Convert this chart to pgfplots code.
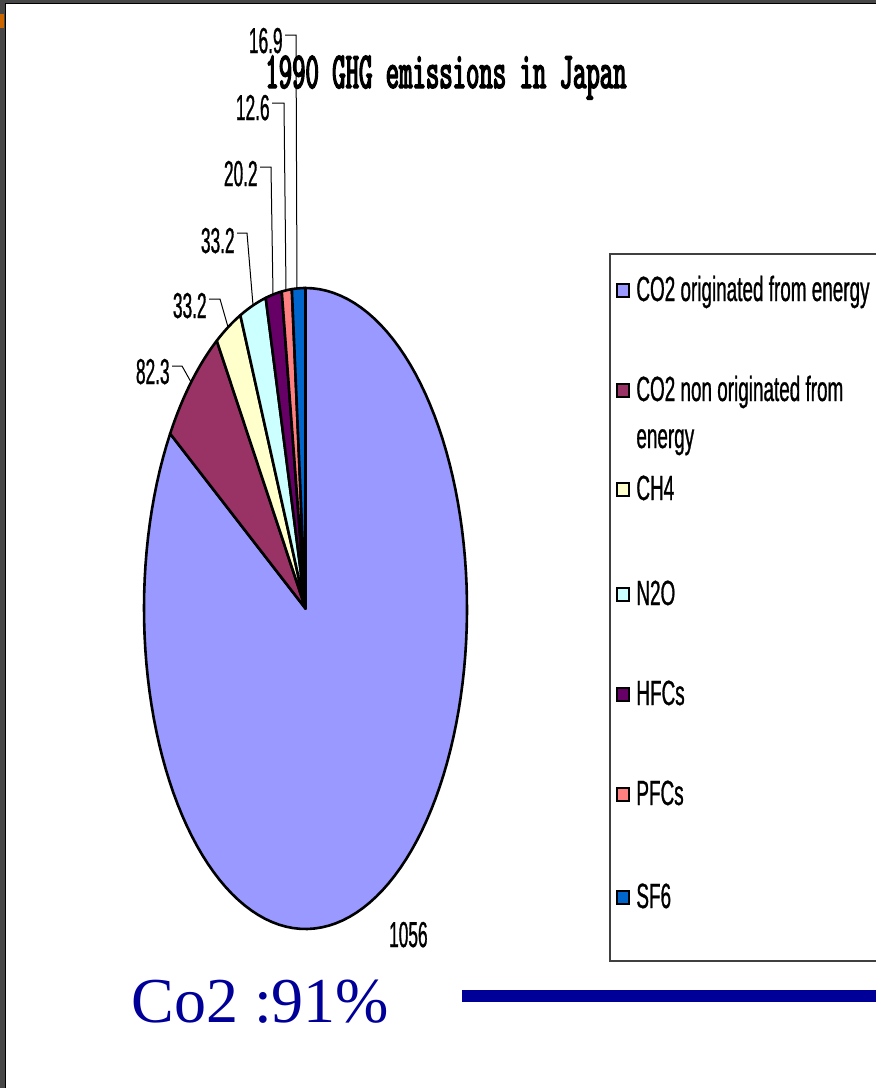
\documentclass[border=0pt]{standalone}
\usepackage{pgfplots}
\pgfplotsset{compat=1.18}
\usepackage{pgfplotstable}
\usepackage{fontspec}
\setmainfont{Liberation Sans}
\newfontfamily\labfont[FakeStretch=0.48, FakeBold=0.8]{Liberation Sans}
\newfontfamily\legfont[FakeStretch=0.54, FakeBold=0.8]{Liberation Sans}
\newfontfamily\ttlfont{lmmono10-regular}[Extension=.otf, FakeStretch=0.49, FakeBold=2.5]
\newfontfamily\serfont{Liberation Serif}

% Excel palette, in series order
\definecolor{c0}{HTML}{9999FF}
\definecolor{c1}{HTML}{993366}
\definecolor{c2}{HTML}{FFFFCC}
\definecolor{c3}{HTML}{CCFFFF}
\definecolor{c4}{HTML}{660066}
\definecolor{c5}{HTML}{FF8080}
\definecolor{c6}{HTML}{0066CC}
\definecolor{navy}{HTML}{000099}

% 1990 GHG emissions, Japan
\pgfplotstableread{
gas   value
CO2e  1056
CO2n  82.3
CH4   33.2
N2O   33.2
HFCs  20.2
PFCs  12.6
SF6   16.9
}\ghg
\pgfplotstablecreatecol[create col/expr accum={\pgfmathaccuma+\thisrow{value}}{0}]{cum}\ghg

% legend swatch + text, baseline at #2 (image px)
\newcommand\legentry[3]{%
  \filldraw[fill=#1, draw=black, line width=0.9pt] (axis cs:617,#2-17) rectangle (axis cs:629,#2-4);
  \node[leg] at (axis cs:636,#2) {#3};
}

\begin{document}
\begin{tikzpicture}
\pgfplotstablegetelem{6}{cum}\of\ghg \let\ghgtotal\pgfplotsretval
% start / end angle of every slice, clockwise from 12 o'clock
\foreach \i in {0,...,6}{%
  \pgfplotstablegetelem{\i}{cum}\of\ghg
  \pgfmathsetmacro\angB{\pgfplotsretval/\ghgtotal*360}%
  \pgfplotstablegetelem{\i}{value}\of\ghg
  \pgfmathsetmacro\angA{\angB-\pgfplotsretval/\ghgtotal*360}%
  \expandafter\xdef\csname sa\i\endcsname{\angA}%
  \expandafter\xdef\csname sb\i\endcsname{\angB}%
}
\begin{axis}[
  at={(0,0)}, anchor=south west,
  scale only axis, width=438pt, height=544pt,
  xmin=0, xmax=876, ymin=0, ymax=1088,
  y dir=reverse,
  hide axis, clip=false,
]
  % frame of the screenshot
  \fill[black!72] (axis cs:0,0) rectangle (axis cs:876,3.5);
  \fill[black!72] (axis cs:0,0) rectangle (axis cs:5,1088);
  \fill[black] (axis cs:5,3.5) rectangle (axis cs:6,1088);
  \fill[black] (axis cs:5,3) rectangle (axis cs:876,4);
  \fill[orange!80!black] (axis cs:0,14) rectangle (axis cs:4,28);

  \pgfplotsinvokeforeach{0,...,6}{
    \addplot[fill=c#1, draw=black, line width=1.3pt, line join=round,
      domain=\csname sa#1\endcsname:\csname sb#1\endcsname, samples=121]
      ({305.5+161.5*sin(x)}, {608.5-320.5*cos(x)}) -- (axis cs:305.5,608.5) -- cycle;
  }

  \node[anchor=base west, inner sep=0, font={\ttlfont\fontsize{26}{30}\selectfont}]
    at (axis cs:265,88) {1990 GHG emissions in Japan};

  % data labels and leaders
  \tikzset{lab/.style={anchor=base east, inner sep=0, font={\labfont\fontsize{18}{20}\selectfont}}}
  \node[lab] at (axis cs:283,53) {16.9};
  \node[lab] at (axis cs:270,120) {12.6};
  \node[lab] at (axis cs:258,186) {20.2};
  \node[lab] at (axis cs:235,253) {33.2};
  \node[lab] at (axis cs:207,318) {33.2};
  \node[lab] at (axis cs:170,384) {82.3};
  \node[lab] at (axis cs:428,947) {1056};
  \draw[line width=0.5pt] (axis cs:285,35) -- (axis cs:296,35) -- (axis cs:297,289);
  \draw[line width=0.5pt] (axis cs:272,103) -- (axis cs:284,103) -- (axis cs:286,290);
  \draw[line width=0.5pt] (axis cs:260,167) -- (axis cs:271,167) -- (axis cs:273,294);
  \draw[line width=0.5pt] (axis cs:237,233) -- (axis cs:247,233) -- (axis cs:253,305);
  \draw[line width=0.5pt] (axis cs:209,299) -- (axis cs:220,299) -- (axis cs:228,327);
  \draw[line width=0.5pt] (axis cs:172,366) -- (axis cs:182,366) -- (axis cs:191,382);

  % legend
  \draw[line width=0.6pt, black!75] (axis cs:876,254) -- (axis cs:610,254) -- (axis cs:610,961) -- (axis cs:876,961);
  \tikzset{leg/.style={anchor=base west, inner sep=0, font={\legfont\fontsize{17.5}{20}\selectfont}}}
  \legentry{c0}{301}{CO2 originated from energy}
  \legentry{c1}{401}{CO2 non originated from}
  \node[leg] at (axis cs:636,448) {energy};
  \legentry{c2}{500}{CH4}
  \legentry{c3}{605}{N2O}
  \legentry{c4}{705}{HFCs}
  \legentry{c5}{805}{PFCs}
  \legentry{c6}{908}{SF6}

  % note below the chart
  \node[anchor=base west, inner sep=0, text=navy, font={\serfont\fontsize{32}{38}\selectfont}]
    at (axis cs:131,1022) {Co2 :91\%};
  \fill[navy] (axis cs:462,990) rectangle (axis cs:876,1002);
\end{axis}
\pgfresetboundingbox
\path (0,0) rectangle (438pt,544pt);
\end{tikzpicture}
\end{document}
